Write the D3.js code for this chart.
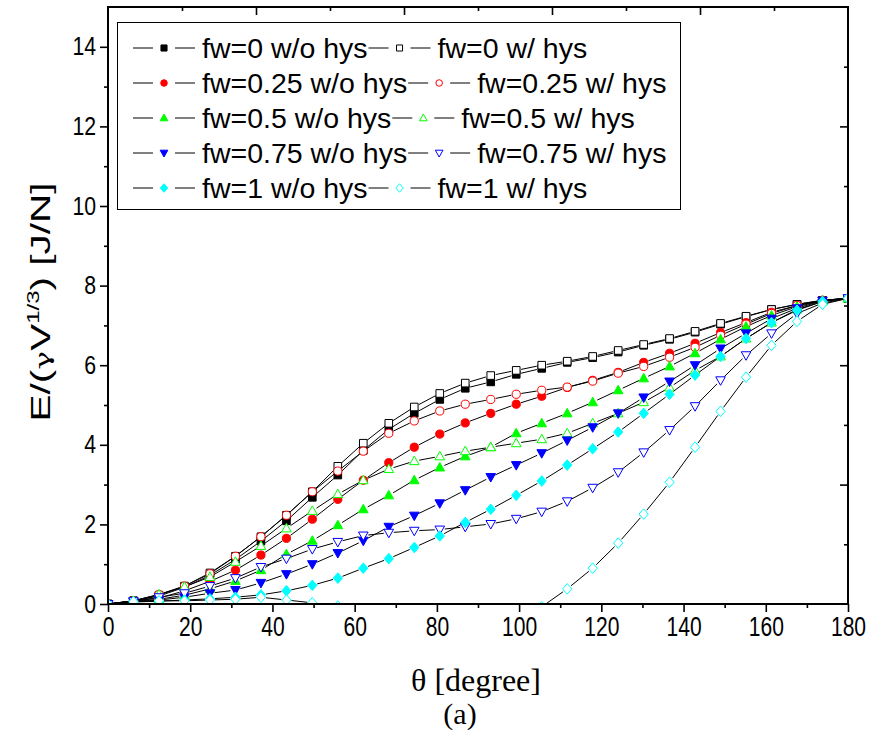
<!DOCTYPE html>
<html>
<head>
<meta charset="utf-8">
<script src="https://cdn.jsdelivr.net/npm/d3@7/dist/d3.min.js"></script>
<style>
  html, body { margin: 0; padding: 0; background: #fff; }
  svg { display: block; }
</style>
</head>
<body>
<div id="chart"></div>
<script>
// angles (degree)
const theta = [0, 6.2, 12.4, 18.6, 24.8, 31.0, 37.2, 43.4, 49.7, 55.9, 62.1, 68.3, 74.5, 80.7, 86.9,
               93.1, 99.3, 105.5, 111.7, 117.9, 124.1, 130.3, 136.6, 142.8, 149.0, 155.2, 161.4, 167.6, 173.8, 180];

const fw0_wo   = [0, 0.08, 0.2, 0.42, 0.72, 1.12, 1.58, 2.09, 2.68, 3.24, 3.86, 4.39, 4.79, 5.14, 5.42, 5.58, 5.77, 5.92, 6.07, 6.19, 6.33, 6.5, 6.65, 6.83, 7.03, 7.22, 7.4, 7.53, 7.63, 7.68];
const fw0_w    = [0, 0.08, 0.22, 0.45, 0.78, 1.2, 1.69, 2.23, 2.82, 3.46, 4.04, 4.54, 4.95, 5.29, 5.55, 5.74, 5.87, 6.0, 6.1, 6.22, 6.37, 6.52, 6.67, 6.85, 7.05, 7.23, 7.4, 7.53, 7.63, 7.68];
const fw025_wo = [0, 0.07, 0.15, 0.33, 0.57, 0.85, 1.23, 1.65, 2.13, 2.63, 3.11, 3.55, 3.94, 4.27, 4.55, 4.79, 5.02, 5.22, 5.44, 5.62, 5.82, 6.07, 6.3, 6.55, 6.82, 7.07, 7.33, 7.5, 7.63, 7.68];
const fw025_w  = [0, 0.08, 0.24, 0.45, 0.76, 1.2, 1.69, 2.23, 2.82, 3.34, 3.84, 4.29, 4.6, 4.85, 5.02, 5.14, 5.27, 5.37, 5.45, 5.6, 5.8, 5.97, 6.2, 6.45, 6.75, 7.03, 7.3, 7.5, 7.63, 7.68];
const fw05_wo  = [0, 0.06, 0.12, 0.22, 0.38, 0.58, 0.85, 1.25, 1.59, 1.98, 2.38, 2.73, 3.11, 3.43, 3.71, 3.94, 4.29, 4.54, 4.79, 5.07, 5.37, 5.67, 5.97, 6.3, 6.65, 6.97, 7.25, 7.47, 7.62, 7.68];
const fw05_w   = [0, 0.08, 0.24, 0.43, 0.68, 1.06, 1.46, 1.9, 2.34, 2.76, 3.11, 3.39, 3.59, 3.71, 3.84, 3.94, 4.04, 4.14, 4.29, 4.54, 4.79, 5.07, 5.44, 5.87, 6.22, 6.67, 7.07, 7.4, 7.6, 7.68];
const fw075_wo = [0, 0.05, 0.1, 0.17, 0.27, 0.35, 0.53, 0.75, 1.0, 1.28, 1.59, 1.94, 2.22, 2.53, 2.86, 3.19, 3.49, 3.79, 4.11, 4.44, 4.79, 5.19, 5.59, 6.0, 6.42, 6.8, 7.17, 7.43, 7.62, 7.68];
const fw075_w  = [0, 0.07, 0.17, 0.27, 0.45, 0.65, 0.93, 1.14, 1.38, 1.56, 1.72, 1.79, 1.84, 1.87, 1.94, 2.01, 2.14, 2.32, 2.58, 2.92, 3.31, 3.81, 4.37, 4.97, 5.62, 6.25, 6.8, 7.3, 7.56, 7.68];
const fw1_wo   = [0, 0.05, 0.07, 0.1, 0.13, 0.17, 0.23, 0.33, 0.47, 0.65, 0.9, 1.14, 1.42, 1.71, 2.05, 2.38, 2.73, 3.09, 3.49, 3.9, 4.32, 4.79, 5.27, 5.75, 6.22, 6.67, 7.07, 7.38, 7.6, 7.68];
const fw1_w    = [0, 0.06, 0.08, 0.08, 0.1, 0.12, 0.17, 0.1, 0.03, -0.05, -0.3, -0.3, -0.3, -0.3, -0.3, -0.3, -0.3, -0.07, 0.38, 0.9, 1.53, 2.26, 3.06, 3.94, 4.84, 5.7, 6.5, 7.1, 7.53, 7.68];

const fwLabels = ["0", "0.25", "0.5", "0.75", "1"];
const colors   = ["#000000", "#ff0000", "#00ff00", "#0000ff", "#00ffff"];
const shapes   = ["square", "circle", "up", "down", "diamond"];
const woSeries = [fw0_wo, fw025_wo, fw05_wo, fw075_wo, fw1_wo];
const wSeries  = [fw0_w, fw025_w, fw05_w, fw075_w, fw1_w];

const xTicks = [0, 20, 40, 60, 80, 100, 120, 140, 160, 180];
const yTicks = [0, 2, 4, 6, 8, 10, 12, 14];

const largura = 873, altura = 736;
const margem = { top: 7, right: 25, bottom: 132, left: 108 };

const svg = d3.select("#chart").append("svg")
  .attr("width", largura)
  .attr("height", altura);

const x = d3.scaleLinear().domain([0, 180]).range([margem.left, largura - margem.right]);
const y = d3.scaleLinear().domain([0, 15]).range([altura - margem.bottom, margem.top]);

// series in legend order
const series = [];
fwLabels.forEach((f, i) => {
  series.push({ name: `fw=${f} w/o hys`, values: woSeries[i], color: colors[i], shape: shapes[i], filled: true });
  series.push({ name: `fw=${f} w/ hys`, values: wSeries[i], color: colors[i], shape: shapes[i], filled: false });
});

// symbol path, s = scale
function markerPath(shape, s) {
  const p = d3.path();
  if (shape === "square") {
    const h = 3.8 * s; p.rect(-h, -h, 2 * h, 2 * h);
  } else if (shape === "circle") {
    p.arc(0, 0, 4.1 * s, 0, 2 * Math.PI);
  } else if (shape === "up") {
    p.moveTo(0, -5 * s); p.lineTo(4.8 * s, 3.5 * s); p.lineTo(-4.8 * s, 3.5 * s); p.closePath();
  } else if (shape === "down") {
    p.moveTo(0, 5 * s); p.lineTo(4.8 * s, -3.5 * s); p.lineTo(-4.8 * s, -3.5 * s); p.closePath();
  } else {
    p.moveTo(0, -5.3 * s); p.lineTo(4.6 * s, 0); p.lineTo(0, 5.3 * s); p.lineTo(-4.6 * s, 0); p.closePath();
  }
  return p.toString();
}

svg.append("clipPath").attr("id", "plotclip")
  .append("rect")
  .attr("x", x(0)).attr("y", y(15))
  .attr("width", x(180) - x(0)).attr("height", y(0) - y(15));

const plot = svg.append("g").attr("clip-path", "url(#plotclip)");

// lines leave a small gap at each symbol
const gap = 5;
series.forEach(s => {
  const g = plot.append("g");
  const pts = s.values.map((v, i) => [x(theta[i]), y(v)]);
  for (let i = 0; i < pts.length - 1; i++) {
    const [x1, y1] = pts[i], [x2, y2] = pts[i + 1];
    const d = Math.hypot(x2 - x1, y2 - y1);
    if (d <= 2 * gap) continue;
    const ux = (x2 - x1) / d, uy = (y2 - y1) / d;
    g.append("line")
      .attr("x1", x1 + ux * gap).attr("y1", y1 + uy * gap)
      .attr("x2", x2 - ux * gap).attr("y2", y2 - uy * gap)
      .attr("stroke", "#000").attr("stroke-width", 1);
  }
  g.selectAll("path")
    .data(s.values)
    .enter()
    .append("path")
    .attr("transform", (v, i) => `translate(${x(theta[i])},${y(v)})`)
    .attr("d", markerPath(s.shape, 1))
    .attr("fill", s.filled ? s.color : "#fff")
    .attr("stroke", s.color)
    .attr("stroke-width", 1);
});

// axes
function styleAxis(g) {
  g.select(".domain").remove();
  g.selectAll(".tick line").attr("stroke", "#000").attr("stroke-width", 1.6);
}

const fontSans = "'Liberation Sans', Arial, sans-serif";
const fontSerif = "'Liberation Serif', 'Times New Roman', serif";

const xAxis = svg.append("g")
  .attr("transform", `translate(0,${y(0)})`)
  .call(d3.axisBottom(x).tickValues(xTicks).tickSize(8).tickPadding(5).tickFormat(d3.format("d")))
  .call(styleAxis);
xAxis.selectAll("text")
  .attr("fill", "#000")
  .style("font-family", fontSans)
  .style("font-size", "27px")
  .attr("transform", "scale(0.78,1)");

svg.append("g")
  .attr("transform", `translate(0,${y(0)})`)
  .call(d3.axisBottom(x).tickValues(d3.range(10, 180, 20)).tickSize(4).tickFormat(""))
  .call(styleAxis);

const yAxis = svg.append("g")
  .attr("transform", `translate(${x(0)},0)`)
  .call(d3.axisLeft(y).tickValues(yTicks).tickSize(8).tickPadding(6).tickFormat(d3.format("d")))
  .call(styleAxis);
yAxis.selectAll("text")
  .attr("fill", "#000")
  .style("font-family", fontSans)
  .style("font-size", "25px")
  .attr("transform", "scale(0.85,1)");

svg.append("g")
  .attr("transform", `translate(${x(0)},0)`)
  .call(d3.axisLeft(y).tickValues(d3.range(1, 15, 2)).tickSize(4).tickFormat(""))
  .call(styleAxis);

// top axis, ticks inward
svg.append("g")
  .attr("transform", `translate(0,${y(15)})`)
  .call(d3.axisBottom(x).tickValues([36, 72, 108, 144]).tickSize(8).tickFormat(""))
  .call(styleAxis);
svg.append("g")
  .attr("transform", `translate(0,${y(15)})`)
  .call(d3.axisBottom(x).tickValues([18, 54, 90, 126, 162]).tickSize(4).tickFormat(""))
  .call(styleAxis);

// right axis, ticks inward
svg.append("g")
  .attr("transform", `translate(${x(180)},0)`)
  .call(d3.axisLeft(y).tickValues([3, 6, 9, 12]).tickSize(8).tickFormat(""))
  .call(styleAxis);
svg.append("g")
  .attr("transform", `translate(${x(180)},0)`)
  .call(d3.axisLeft(y).tickValues([1.5, 4.5, 7.5, 10.5, 13.5]).tickSize(4).tickFormat(""))
  .call(styleAxis);

// frame
svg.append("rect")
  .attr("x", x(0)).attr("y", y(15))
  .attr("width", x(180) - x(0)).attr("height", y(0) - y(15))
  .attr("fill", "none").attr("stroke", "#000").attr("stroke-width", 2);

// titles
svg.append("text")
  .attr("x", 476)
  .attr("y", 691)
  .attr("text-anchor", "middle")
  .style("font-family", fontSerif)
  .style("font-size", "32px")
  .text("θ [degree]");

svg.append("text")
  .attr("x", 460)
  .attr("y", 724)
  .attr("text-anchor", "middle")
  .style("font-family", fontSerif)
  .style("font-size", "30px")
  .text("(a)");

const yl = svg.append("text")
  .attr("transform", `translate(50,302) rotate(-90) scale(1.5,1)`)
  .attr("text-anchor", "middle")
  .style("font-family", fontSans)
  .style("font-size", "27px");
yl.append("tspan").text("E/(");
yl.append("tspan").style("font-family", "'DejaVu Serif', serif").style("font-size", "21px").text("γ");
yl.append("tspan").text("V");
yl.append("tspan").attr("dy", -11).style("font-size", "16px").text("1/3");
yl.append("tspan").attr("dy", 11).text(") [J/N]");

// legend
const leg = svg.append("g");
leg.append("rect")
  .attr("x", 117.5).attr("y", 22.5)
  .attr("width", 563).attr("height", 187)
  .attr("fill", "#fff").attr("stroke", "#000").attr("stroke-width", 1);

function legendEntry(s, x0, cy) {
  leg.append("line")
    .attr("x1", x0).attr("x2", x0 + 20).attr("y1", cy).attr("y2", cy)
    .attr("stroke", "#000").attr("stroke-width", 1);
  leg.append("line")
    .attr("x1", x0 + 42).attr("x2", x0 + 62).attr("y1", cy).attr("y2", cy)
    .attr("stroke", "#000").attr("stroke-width", 1);
  leg.append("path")
    .attr("transform", `translate(${x0 + 31},${cy})`)
    .attr("d", markerPath(s.shape, 0.8))
    .attr("fill", s.filled ? s.color : "#fff")
    .attr("stroke", s.color)
    .attr("stroke-width", 1);
  const t = leg.append("text")
    .attr("x", x0 + 69).attr("y", cy + 10)
    .style("font-family", fontSans)
    .style("font-size", "28.5px")
    .text(s.name);
  return x0 + 69 + t.node().getComputedTextLength();
}

fwLabels.forEach((f, i) => {
  const cy = 48 + i * 35;
  const end = legendEntry(series[2 * i], 133, cy);
  legendEntry(series[2 * i + 1], end + 1, cy);
});
</script>
</body>
</html>
